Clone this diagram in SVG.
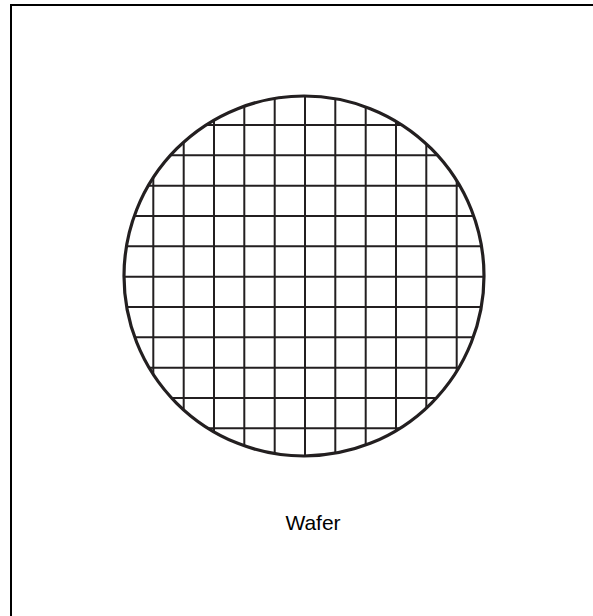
<svg xmlns="http://www.w3.org/2000/svg" width="593" height="616" viewBox="0 0 593 616">
<style>
.frame{stroke:#000;stroke-width:2;fill:none}
.grid line{stroke:#231f20;stroke-width:2}
.wafer{fill:none;stroke:#231f20;stroke-width:3.2}
.label{font-family:"Liberation Sans",Arial,sans-serif;font-size:21px;fill:#000}
</style>
<defs>
<clipPath id="wc"><circle cx="304" cy="276" r="180"/></clipPath>
</defs>
<rect width="593" height="616" fill="#fff"/>
<path class="frame" d="M11,616 V5 H593"/>
<g id="wafer">
<g class="grid" clip-path="url(#wc)">
<line x1="153.3" y1="90" x2="153.3" y2="462"/>
<line x1="183.7" y1="90" x2="183.7" y2="462"/>
<line x1="214" y1="90" x2="214" y2="462"/>
<line x1="244.3" y1="90" x2="244.3" y2="462"/>
<line x1="274.7" y1="90" x2="274.7" y2="462"/>
<line x1="305" y1="90" x2="305" y2="462"/>
<line x1="335.3" y1="90" x2="335.3" y2="462"/>
<line x1="365.7" y1="90" x2="365.7" y2="462"/>
<line x1="396" y1="90" x2="396" y2="462"/>
<line x1="426.3" y1="90" x2="426.3" y2="462"/>
<line x1="456.7" y1="90" x2="456.7" y2="462"/>
<line x1="118" y1="125" x2="490" y2="125"/>
<line x1="118" y1="155.3" x2="490" y2="155.3"/>
<line x1="118" y1="185.7" x2="490" y2="185.7"/>
<line x1="118" y1="216" x2="490" y2="216"/>
<line x1="118" y1="246.3" x2="490" y2="246.3"/>
<line x1="118" y1="276.7" x2="490" y2="276.7"/>
<line x1="118" y1="307" x2="490" y2="307"/>
<line x1="118" y1="337.3" x2="490" y2="337.3"/>
<line x1="118" y1="367.7" x2="490" y2="367.7"/>
<line x1="118" y1="398" x2="490" y2="398"/>
<line x1="118" y1="428.3" x2="490" y2="428.3"/>
</g>
<circle class="wafer" cx="304" cy="276" r="180"/>
</g>
<g id="label">
<text class="label" x="313" y="530" text-anchor="middle">Wafer</text>
</g>
</svg>
